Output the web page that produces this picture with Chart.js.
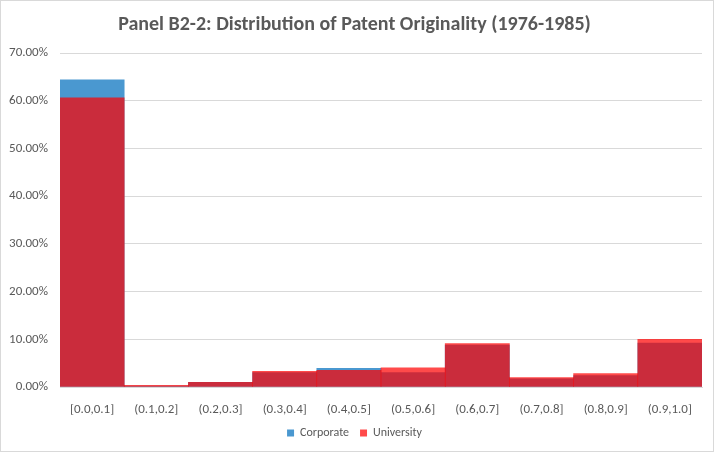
<!DOCTYPE html>
<html>
<head>
<meta charset="utf-8">
<script src="https://cdn.jsdelivr.net/npm/chart.js@4"></script>
<style>
  html, body { margin:0; padding:0; background:#fff; }
  #wrap { position:relative; width:712px; height:450px; border:1px solid #d9d9d9; }
</style>
</head>
<body>
<div id="wrap"><canvas id="c"></canvas></div>
<script>
// originality bins and shares (%)
const bins = ['[0.0,0.1]','(0.1,0.2]','(0.2,0.3]','(0.3,0.4]','(0.4,0.5]','(0.5,0.6]','(0.6,0.7]','(0.7,0.8]','(0.8,0.9]','(0.9,1.0]'];
const corporate = [64.4, 0.2, 1.0, 3.0, 3.9, 3.0, 8.8, 1.7, 2.4, 9.2];
const university = [60.6, 0.35, 1.0, 3.3, 3.5, 4.0, 9.1, 2.0, 2.8, 10.0];

Chart.defaults.font.family = 'Carlito, Lato, "Noto Sans", sans-serif';
Chart.defaults.color = '#595959';

new Chart(document.getElementById('c'), {
  type:'bar',
  data:{labels:bins, datasets:[
    // university drawn on top of corporate (first dataset = topmost)
    {label:'University', data:university, backgroundColor:'rgba(255,0,0,0.71)', categoryPercentage:1, barPercentage:1, grouped:false},
    {label:'Corporate', data:corporate, backgroundColor:'#4a98d0', categoryPercentage:1, barPercentage:1, grouped:false}
  ]},
  options:{responsive:true, maintainAspectRatio:false, animation:false,
    layout:{padding:{left:6, right:11, top:2, bottom:2}},
    plugins:{
      title:{display:true, text:'Panel B2-2: Distribution of Patent Originality (1976-1985)', font:{size:20, weight:'bold'}, padding:{top:10, bottom:16}},
      legend:{position:'bottom', reverse:true, labels:{boxWidth:7, boxHeight:7, font:{size:12}, padding:11}},
      tooltip:{enabled:false}
    },
    scales:{
      x:{grid:{display:false, drawTicks:false}, border:{color:'#d9d9d9'},
         afterFit:s=>{ s.height = 29; },
         ticks:{font:{size:13}, padding:15, maxRotation:0}},
      y:{min:0, max:70, grid:{color:'#d9d9d9', drawTicks:false}, border:{display:false},
         afterFit:s=>{ s.width = 53; },
         ticks:{stepSize:10, padding:12, font:{size:13}, callback:v=>v.toFixed(2)+'%'}}
    }
  }
});
</script>
</body>
</html>
